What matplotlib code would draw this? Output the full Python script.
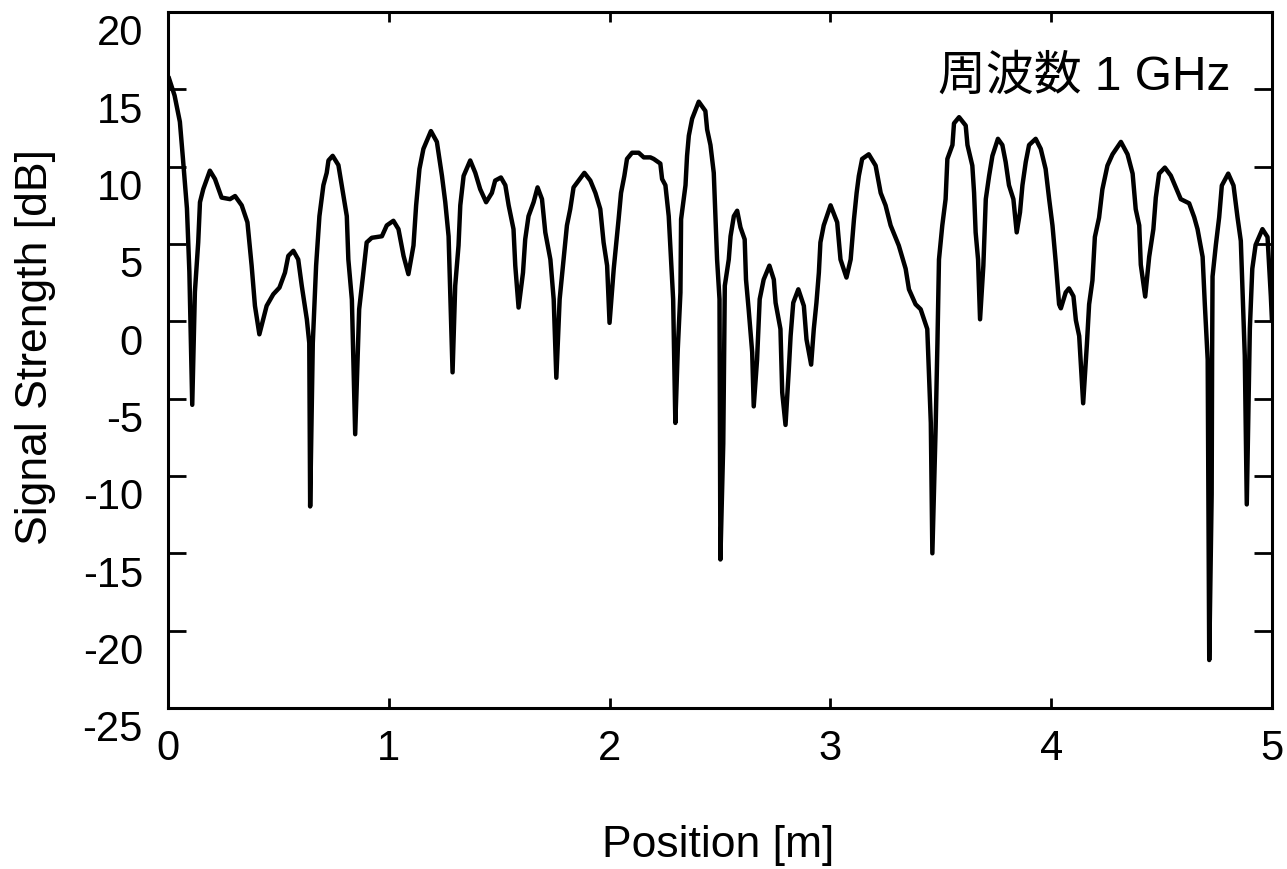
import matplotlib
matplotlib.use("Agg")
import matplotlib.pyplot as plt
import matplotlib.transforms as mtransforms

# Data (position in m, signal in dB)
position = [
    0.005, 0.03, 0.054, 0.068, 0.086, 0.097, 0.11, 0.122, 0.137, 0.145,
    0.16, 0.19, 0.213, 0.243, 0.281, 0.304, 0.334, 0.36, 0.379, 0.394,
    0.414, 0.447, 0.477, 0.505, 0.53, 0.545, 0.568, 0.59, 0.606, 0.629,
    0.64, 0.644, 0.656, 0.671, 0.686, 0.704, 0.719, 0.727, 0.746, 0.772,
    0.787, 0.81, 0.817, 0.833, 0.848, 0.866, 0.883, 0.9, 0.923, 0.969,
    0.991, 1.021, 1.044, 1.067, 1.089, 1.112, 1.124, 1.139, 1.157, 1.191,
    1.218, 1.241, 1.256, 1.271, 1.278, 1.289, 1.301, 1.316, 1.324, 1.339,
    1.369, 1.392, 1.414, 1.441, 1.467, 1.482, 1.508, 1.528, 1.543, 1.565,
    1.573, 1.588, 1.608, 1.618, 1.633, 1.656, 1.674, 1.694, 1.709, 1.732,
    1.747, 1.759, 1.774, 1.789, 1.807, 1.822, 1.837, 1.86, 1.886, 1.913,
    1.936, 1.958, 1.973, 1.989, 2.0, 2.019, 2.041, 2.052, 2.067, 2.079,
    2.102, 2.132, 2.155, 2.185, 2.2, 2.23, 2.238, 2.253, 2.268, 2.276,
    2.288, 2.298, 2.309, 2.321, 2.324, 2.344, 2.351, 2.359, 2.374, 2.404,
    2.434, 2.442, 2.457, 2.472, 2.48, 2.487, 2.498, 2.502, 2.515, 2.522,
    2.54, 2.548, 2.563, 2.578, 2.593, 2.612, 2.618, 2.63, 2.646, 2.653,
    2.668, 2.68, 2.698, 2.724, 2.744, 2.752, 2.774, 2.782, 2.797, 2.812,
    2.82, 2.832, 2.855, 2.88, 2.892, 2.913, 2.925, 2.937, 2.948, 2.955,
    2.97, 3.001, 3.031, 3.046, 3.073, 3.092, 3.107, 3.119, 3.129, 3.144,
    3.174, 3.205, 3.228, 3.25, 3.273, 3.31, 3.341, 3.356, 3.386, 3.409,
    3.439, 3.447, 3.455, 3.462, 3.477, 3.485, 3.492, 3.507, 3.522, 3.53,
    3.553, 3.56, 3.583, 3.613, 3.621, 3.643, 3.651, 3.658, 3.669, 3.678,
    3.693, 3.704, 3.719, 3.734, 3.759, 3.779, 3.794, 3.809, 3.829, 3.844,
    3.859, 3.87, 3.885, 3.9, 3.93, 3.953, 3.975, 3.991, 4.006, 4.021,
    4.036, 4.044, 4.066, 4.081, 4.101, 4.112, 4.127, 4.145, 4.162, 4.172,
    4.187, 4.198, 4.217, 4.232, 4.255, 4.278, 4.316, 4.346, 4.369, 4.383,
    4.399, 4.406, 4.426, 4.444, 4.463, 4.474, 4.489, 4.515, 4.542, 4.565,
    4.587, 4.625, 4.648, 4.663, 4.686, 4.696, 4.709, 4.716, 4.727, 4.729,
    4.731, 4.746, 4.761, 4.773, 4.802, 4.826, 4.844, 4.859, 4.866, 4.877,
    4.886, 4.896, 4.9, 4.911, 4.926, 4.957, 4.98, 4.995, 5.0,
]
signal_db = [
    15.7, 14.6, 12.9, 10.5, 7.3, 3.2, -5.4, 1.9, 5.1, 7.7,
    8.55, 9.74, 9.2, 8.0, 7.9, 8.1, 7.5, 6.4, 3.6, 1.0,
    -0.84, 1.0, 1.75, 2.18, 3.15, 4.23, 4.56, 4.0, 2.3, 0.13,
    -1.4, -11.97, -1.4, 3.6, 6.8, 8.8, 9.6, 10.4, 10.7, 10.1,
    8.8, 6.8, 4.0, 1.4, -7.3, 0.78, 2.9, 5.1, 5.4, 5.5,
    6.2, 6.5, 5.96, 4.23, 3.05, 4.9, 7.5, 9.85, 11.15, 12.3,
    11.6, 9.4, 7.7, 5.5, 2.07, -3.3, 2.3, 4.9, 7.5, 9.4,
    10.4, 9.6, 8.55, 7.7, 8.3, 9.1, 9.3, 8.8, 7.5, 5.96,
    3.6, 0.89, 3.15, 5.3, 6.8, 7.7, 8.66, 7.9, 5.75, 4.0,
    1.43, -3.65, 1.43, 3.6, 6.2, 7.26, 8.66, 9.1, 9.6, 9.1,
    8.3, 7.26, 5.1, 3.6, -0.1, 3.4, 6.6, 8.3, 9.4, 10.5,
    10.9, 10.9, 10.6, 10.6, 10.5, 10.2, 9.2, 8.8, 6.8, 4.67,
    1.43, -6.57, -1.8, 1.86, 6.6, 8.8, 10.7, 12.0, 13.1, 14.2,
    13.6, 12.4, 11.4, 9.6, 6.6, 4.0, 1.43, -15.4, -7.9, 2.3,
    4.0, 5.5, 6.8, 7.15, 6.07, 5.3, 2.7, 0.78, -2.0, -5.5,
    -2.5, 1.43, 2.7, 3.6, 2.7, 1.2, -0.5, -4.6, -6.7, -3.1,
    -0.95, 1.2, 2.07, 1.0, -1.17, -2.8, -0.5, 1.2, 3.15, 5.1,
    6.2, 7.5, 6.4, 4.0, 2.83, 4.0, 6.6, 8.3, 9.4, 10.5,
    10.8, 10.07, 8.3, 7.5, 6.2, 4.9, 3.4, 2.07, 1.1, 0.78,
    -0.5, -3.5, -6.57, -15.0, -6.8, -1.4, 4.0, 6.2, 7.9, 10.5,
    11.4, 12.8, 13.2, 12.66, 11.4, 10.07, 8.3, 5.75, 4.0, 0.13,
    3.6, 7.9, 9.4, 10.7, 11.8, 11.4, 10.3, 8.8, 7.9, 5.75,
    7.05, 8.8, 10.3, 11.4, 11.8, 11.15, 9.85, 7.9, 6.2, 3.8,
    1.1, 0.84, 1.87, 2.13, 1.62, 0.07, -0.95, -5.3, -1.46, 1.1,
    2.64, 5.45, 6.7, 8.53, 10.07, 10.8, 11.6, 10.8, 9.55, 7.25,
    6.2, 3.66, 1.6, 4.17, 5.96, 8.0, 9.55, 9.94, 9.42, 8.65,
    7.9, 7.63, 6.73, 5.96, 4.17, 1.1, -2.49, -21.9, -11.2, -2.23,
    2.9, 4.94, 6.73, 8.78, 9.55, 8.78, 6.73, 5.2, 2.38, -2.23,
    -11.84, -3.5, -0.44, 3.4, 4.94, 5.96, 5.45, 1.62, 0.07,
]

x_ticks = [0, 1, 2, 3, 4, 5]
y_ticks = [-25, -20, -15, -10, -5, 0, 5, 10, 15, 20]
x_label = "Position [m]"
y_label = "Signal Strength [dB]"
annotation = "周波数 1 GHz"

plt.rcParams['font.family'] = ['Liberation Sans', 'Noto Sans CJK JP', 'DejaVu Sans']

fig = plt.figure(figsize=(12.87, 8.69), dpi=100)
ax = fig.add_axes([0.1305, 0.1853, 0.8578, 0.8009])

ax.plot(position, signal_db, color='black', linewidth=3.2,
        solid_joinstyle='round')

ax.set_xlim(0, 5)
ax.set_ylim(-25, 20)
ax.set_xticks(x_ticks)
ax.set_yticks(y_ticks)
ax.set_xticklabels([str(v) for v in x_ticks])
ax.set_yticklabels([str(v) for v in y_ticks])

for sp in ax.spines.values():
    sp.set_linewidth(2.2)
    sp.set_color('black')

ax.tick_params(axis='y', direction='in', length=13, width=2.0,
               left=True, right=True, labelsize=30, pad=18)
ax.tick_params(axis='x', direction='in', length=7, width=2.0,
               bottom=True, top=True, labelsize=30, pad=15)

# y tick labels sit a little below their ticks in the reference
offset = mtransforms.ScaledTranslation(0, -0.18, fig.dpi_scale_trans)
for lab in ax.get_yticklabels():
    lab.set_transform(lab.get_transform() + offset)

ax.set_xlabel(x_label, fontsize=32)
ax.set_ylabel(y_label, fontsize=32)
ax.xaxis.set_label_coords(0.498, -0.168)
ax.yaxis.set_label_coords(-0.101, 0.519)

ax.text(3.486, 15.0, annotation, fontsize=34.5, ha='left', va='baseline',
        color='black')

fig.savefig("out.png", dpi=100)
